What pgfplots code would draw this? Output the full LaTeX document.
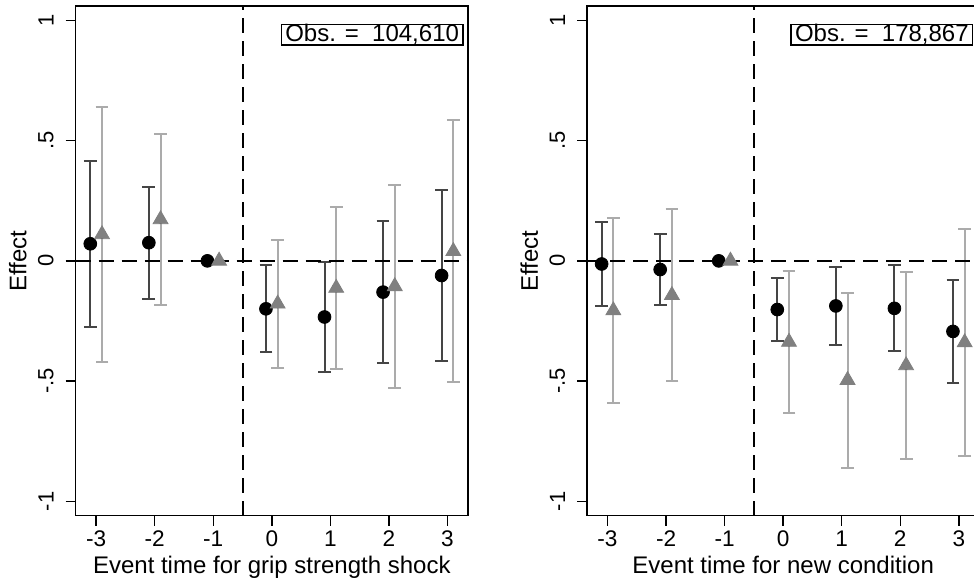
\documentclass[border=0pt]{standalone}
\usepackage{fontspec}
\setmainfont{Liberation Sans}
\usepackage{pgfplots}
\usepackage{pgfplotstable}
\pgfplotsset{compat=1.18}
\definecolor{darkbar}{HTML}{454545}
\definecolor{lightbar}{HTML}{ABABAB}
\definecolor{trifill}{HTML}{808080}

% left panel: grip strength shock
\pgfplotstableread{
x y e
-3.1 0.071 0.346
-2.1 0.0755 0.2335
-1.1 0 0
-0.1 -0.1995 0.1805
0.9 -0.2335 0.2285
1.9 -0.130 0.296
2.9 -0.061 0.356
}\LeftA
\pgfplotstableread{
x y e
-2.9 0.110 0.530
-1.9 0.1725 0.3555
-0.9 0 0
0.1 -0.1785 0.2665
1.1 -0.113 0.337
2.1 -0.106 0.422
3.1 0.040 0.544
}\LeftB
% right panel: new condition
\pgfplotstableread{
x y e
-3.1 -0.013 0.173
-2.1 -0.036 0.149
-1.1 0 0
-0.1 -0.2025 0.1315
0.9 -0.1875 0.1605
1.9 -0.1975 0.1785
2.9 -0.2935 0.2155
}\RightA
\pgfplotstableread{
x y e
-2.9 -0.2065 0.3835
-1.9 -0.143 0.357
-0.9 0 0
0.1 -0.3375 0.2945
1.1 -0.496 0.364
2.1 -0.435 0.389
3.1 -0.3395 0.4725
}\RightB

\tikzset{
  obsbox/.style={draw=black, line width=0.6pt, fill=white, anchor=north east,
    inner xsep=2pt, inner ysep=0pt, minimum height=9.15pt,
    font=\fontsize{12}{13}\selectfont},
}

\pgfplotsset{
  evt/.style={
    scale only axis, width=196.15pt, height=254.85pt,
    xmin=-3.35, xmax=3.35, ymin=-1.06, ymax=1.06,
    axis line style={line width=0.7pt},
    every tick/.style={black, line width=0.7pt},
    tick align=outside, major tick length=5pt,
    xtick={-3,-2,-1,0,1,2,3}, xticklabels={-3,-2,-1,0,1,2,3},
    ytick={-1,-0.5,0,0.5,1}, yticklabels={-1,-.5,0,.5,1},
    xtick pos=left, ytick pos=left,
    tick label style={font=\fontsize{10}{12}\selectfont, inner sep=0pt},
    xticklabel style={anchor=base, font=\fontsize{11.3}{13}\selectfont},
    yticklabel style={rotate=90, anchor=south, font=\fontsize{11}{13}\selectfont},
    xticklabel shift=10.4pt,
    yticklabel shift=5.8pt,
    every axis x label/.style={at={([yshift=-28.8pt]rel axis cs:0.5,0)}, anchor=base,
      inner sep=0pt, font=\fontsize{12}{14}\selectfont},
    every axis y label/.style={at={([xshift=-24.3pt]rel axis cs:0,0.5)}, rotate=90, anchor=south,
      inner sep=0pt, font=\fontsize{12}{14}\selectfont},
    ylabel={Effect},
    clip=true,
  },
  barsA/.style={only marks, mark=none, forget plot,
    skip coords between index={2}{3},
    error bars/.cd, y dir=both, y explicit,
    error bar style={draw=darkbar, line width=1pt, solid},
    error mark options={rotate=90, mark size=3.2pt, draw=darkbar, line width=1pt}},
  barsB/.style={only marks, mark=none, forget plot,
    skip coords between index={2}{3},
    error bars/.cd, y dir=both, y explicit,
    error bar style={draw=lightbar, line width=1pt, solid},
    error mark options={rotate=90, mark size=3.2pt, draw=lightbar, line width=1pt}},
  dotsA/.style={only marks, mark=*, mark size=3.2pt, black, mark options={fill=black, draw=black}},
  dotsB/.style={only marks, mark=triangle*, mark size=4.3pt, trifill, mark options={fill=trifill, draw=trifill}},
  refline/.style={black, line width=1pt, dash pattern=on 7.5pt off 4pt, forget plot, mark=none},
}

\begin{document}
\begin{tikzpicture}
\begin{axis}[evt, at={(37.83pt,35.15pt)}, anchor=south west,
  xlabel={Event time for grip strength shock}]
  \addplot[barsA] table[x=x, y=y, y error=e] {\LeftA};
  \addplot[barsB] table[x=x, y=y, y error=e] {\LeftB};
  \addplot[dotsA] table[x=x, y=y] {\LeftA};
  \addplot[dotsB] table[x=x, y=y] {\LeftB};
  \addplot[refline] coordinates {(-3.35,0) (3.35,0)};
  \addplot[refline] coordinates {(-0.5,-1.06) (-0.5,1.06)};
  \node[obsbox] at ([xshift=-2.2pt,yshift=-9pt]rel axis cs:1,1) {Obs. =\ \ 104,610};
\end{axis}
\begin{axis}[evt, at={(293.5pt,35.15pt)}, anchor=south west,
  xlabel={Event time for new condition}]
  \addplot[barsA] table[x=x, y=y, y error=e] {\RightA};
  \addplot[barsB] table[x=x, y=y, y error=e] {\RightB};
  \addplot[dotsA] table[x=x, y=y] {\RightA};
  \addplot[dotsB] table[x=x, y=y] {\RightB};
  \addplot[refline] coordinates {(-3.35,0) (3.35,0)};
  \addplot[refline] coordinates {(-0.5,-1.06) (-0.5,1.06)};
  \node[obsbox] at ([xshift=-3pt,yshift=-9pt]rel axis cs:1,1) {Obs. =\ \ 178,867};
\end{axis}
\pgfresetboundingbox
\path[use as bounding box] (0,0) rectangle (487pt,293pt);
\end{tikzpicture}
\end{document}
